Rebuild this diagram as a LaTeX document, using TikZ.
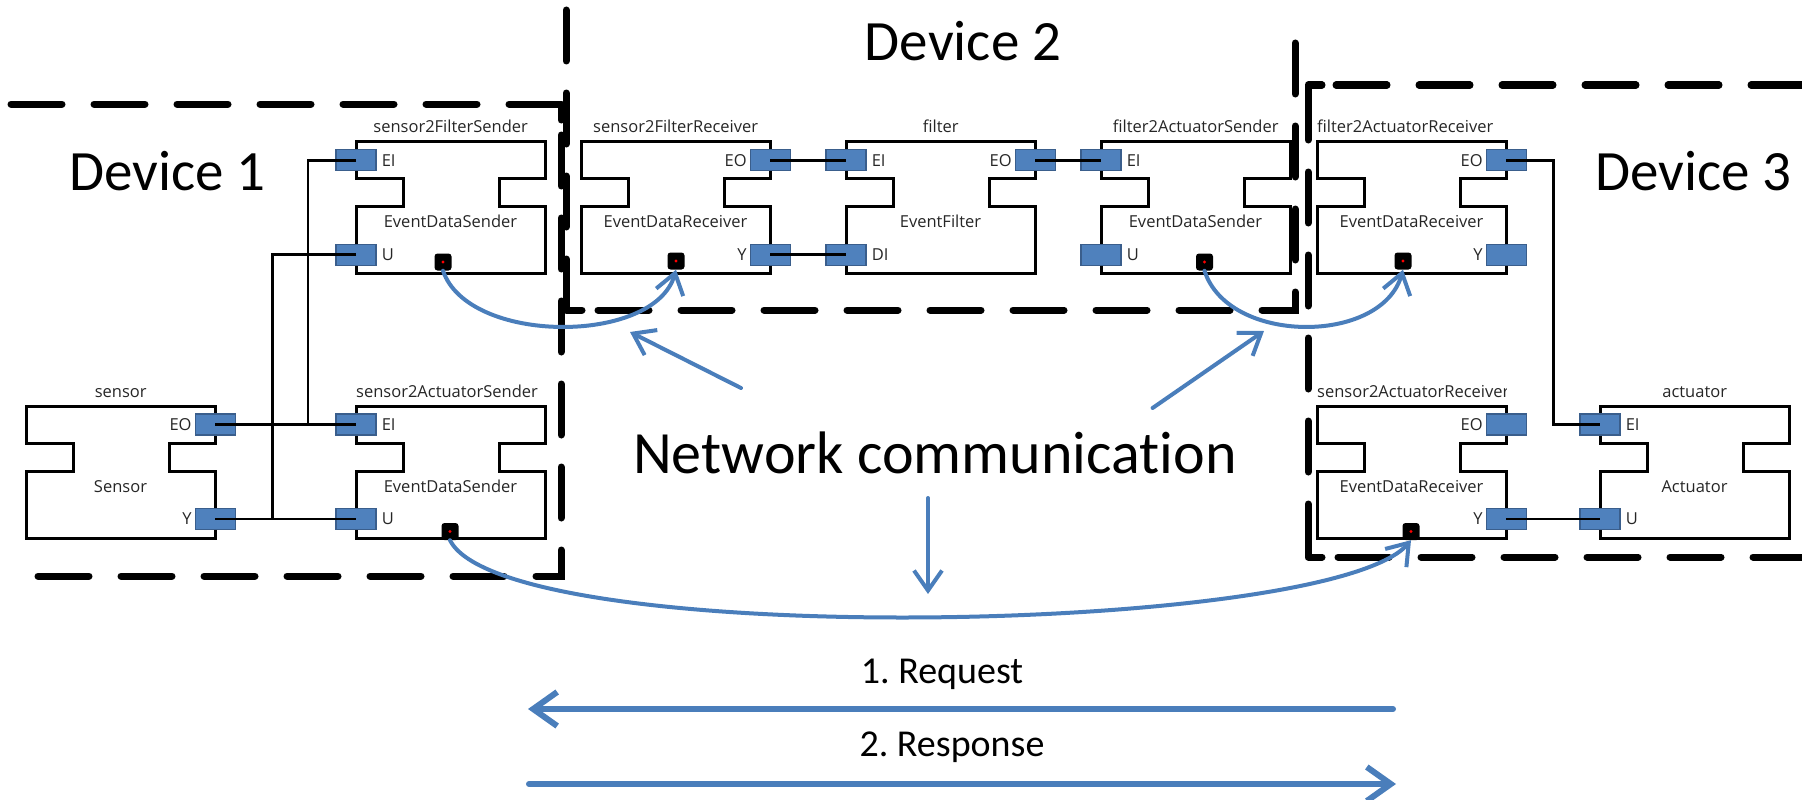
\documentclass[tikz,border=0pt]{standalone}
\usepackage{fontspec}
\setmainfont{Carlito}[Ligatures={NoCommon}]
\newfontfamily\uifont{Open Sans}
\usetikzlibrary{arrows.meta,calc}
\frenchspacing
\definecolor{portblue}{RGB}{79,129,189}
\definecolor{portedge}{RGB}{58,94,140}
\definecolor{netblue}{RGB}{74,126,187}
\tikzset{
  boxline/.style={draw=black,line width=3pt,line join=miter},
  blockarea/.style={rectangle,inner sep=0pt,minimum width=189pt,minimum height=132pt,anchor=north west},
  port/.style={rectangle,draw=portedge,fill=portblue,line width=1.2pt,minimum width=40pt,minimum height=21pt,inner sep=0pt},
  smalltext/.style={font=\uifont\fontsize{16.5}{18}\selectfont,inner sep=0pt,text=black!85},
  wire/.style={draw=black,line width=2.8pt},
  netsq/.style={rectangle,rounded corners=3pt,fill=black,minimum width=17pt,minimum height=17pt,inner sep=0pt,
     path picture={\fill[red] (path picture bounding box.center) circle (1.7pt);}},
  devdash/.style={draw=black,line width=7pt,line cap=round,dash pattern=on 51pt off 32pt},
  devcorner/.style={draw=black,line width=7pt,line cap=round,line join=round},
  biglabel/.style={font=\fontsize{57}{60}\selectfont,inner sep=0pt},
  netlabel/.style={font=\fontsize{60}{64}\selectfont,inner sep=0pt},
  midlabel/.style={font=\fontsize{38}{42}\selectfont,inner sep=0pt},
  netcurve/.style={draw=netblue,line width=4pt,line cap=round,-{Straight Barb[length=20pt,width=28pt]}},
  netarrow/.style={draw=netblue,line width=4pt,line cap=round,-{Straight Barb[length=20pt,width=28pt]}},
  bigarrow/.style={draw=netblue,line width=6pt,line cap=round,-{Straight Barb[length=24pt,width=34pt]}},
}
\newcommand\compblock[4]{%
  \begin{scope}[shift={(#2,#3)}]
    \node[blockarea] (#1) at (0,0) {};
    \draw[boxline] (0,0) -- (189,0) -- (189,37) -- (143,37) -- (143,65) -- (189,65) -- (189,132) -- (0,132) -- (0,65) -- (47,65) -- (47,37) -- (0,37) -- cycle;
    \node[smalltext,anchor=base] (#1type) at (94.5,86) {#4};
  \end{scope}}
\newcommand\ctitle[3]{\node[smalltext,anchor=base] (#1) at ($(#2.north)+(0,-9)$) {#3};}
\newcommand\ltitle[3]{\begin{scope}\clip ($(#2.north west)+(0,-30)$) rectangle (#2.north east);
  \node[smalltext,anchor=base west] (#1) at ($(#2.north west)+(0,-9)$) {#3};\end{scope}}
\newcommand\inport[4]{\node[port] (#1) at ($(#2.north west)+(0,#3)$) {};
  \node[smalltext,anchor=west] (#1lab) at ($(#1.east)+(5,0)$) {#4};}
\newcommand\outport[4]{\node[port] (#1) at ($(#2.north east)+(0,#3)$) {};
  \node[smalltext,anchor=east] (#1lab) at ($(#1.west)+(-3,0)$) {#4};}
\begin{document}
\begin{tikzpicture}[x=1pt,y=-1pt]
\useasboundingbox (0,0) rectangle (1802,800);
% device borders
\draw[devdash] (11,104) -- (561,104) -- (561,576) -- (26,576);
\draw[devcorner] (545,104) -- (561,104) -- (561,120);
\draw[devcorner] (561,560) -- (561,576) -- (545,576);
\draw[devdash] (566,10) -- (566,310) -- (1295,310) -- (1295,23);
\draw[devcorner] (566,294) -- (566,310) -- (582,310);
\draw[devcorner] (1279,310) -- (1295,310) -- (1295,294);
\draw[devdash] (1802,85) -- (1308,85) -- (1308,557) -- (1802,557);
\draw[devcorner] (1322,85) -- (1308,85) -- (1308,99);
\draw[devcorner] (1308,543) -- (1308,557) -- (1322,557);
% device labels
\node[biglabel,anchor=base west] (dev1) at (69,190) {Device 1};
\node[biglabel,anchor=base] (dev2) at (963,60) {Device 2};
\node[biglabel,anchor=base west] (dev3) at (1595,190) {Device 3};
% blocks
\compblock{s2fs}{356}{141.7}{EventDataSender}
\compblock{s2fr}{581}{141.7}{EventDataReceiver}
\compblock{filter}{846}{141.7}{EventFilter}
\compblock{f2as}{1101}{141.7}{EventDataSender}
\compblock{f2ar}{1317}{141.7}{EventDataReceiver}
\compblock{sensor}{26}{406}{Sensor}
\compblock{s2as}{356}{406}{EventDataSender}
\compblock{s2ar}{1317}{406}{EventDataReceiver}
\compblock{act}{1600}{406}{Actuator}
% titles
\ctitle{s2fsT}{s2fs}{sensor2FilterSender}
\ctitle{s2frT}{s2fr}{sensor2FilterReceiver}
\ctitle{filterT}{filter}{filter}
\ctitle{f2asT}{f2as}{filter2ActuatorSender}
\ltitle{f2arT}{f2ar}{filter2ActuatorReceiver}
\ctitle{sensorT}{sensor}{sensor}
\ltitle{s2asT}{s2as}{sensor2ActuatorSender}
\ltitle{s2arT}{s2ar}{sensor2ActuatorReceiver}
\ctitle{actT}{act}{actuator}
% ports
\inport{s2fsEI}{s2fs}{18.5}{EI}
\inport{s2fsU}{s2fs}{113}{U}
\outport{s2frEO}{s2fr}{18.5}{EO}
\outport{s2frY}{s2fr}{113}{Y}
\inport{filterEI}{filter}{18.5}{EI}
\inport{filterDI}{filter}{113}{DI}
\outport{filterEO}{filter}{18.5}{EO}
\inport{f2asEI}{f2as}{18.5}{EI}
\inport{f2asU}{f2as}{113}{U}
\outport{f2arEO}{f2ar}{18.5}{EO}
\outport{f2arY}{f2ar}{113}{Y}
\outport{sensorEO}{sensor}{18.5}{EO}
\outport{sensorY}{sensor}{113}{Y}
\inport{s2asEI}{s2as}{18.5}{EI}
\inport{s2asU}{s2as}{113}{U}
\outport{s2arEO}{s2ar}{18.5}{EO}
\outport{s2arY}{s2ar}{113}{Y}
\inport{actEI}{act}{18.5}{EI}
\inport{actU}{act}{113}{U}
% wires
\coordinate (j1) at (308,424.5);
\coordinate (j2) at (272.5,519);
\coordinate (bend) at (1553.3,300);
\draw[wire] (sensorEO.center) -- (s2asEI.center);
\draw[wire] (sensorY.center) -- (s2asU.center);
\draw[wire] (s2fsEI.center) -| (j1);
\draw[wire] (s2fsU.center) -| (j2);
\draw[wire] (s2frEO.center) -- (filterEI.center);
\draw[wire] (s2frY.center) -- (filterDI.center);
\draw[wire] (filterEO.center) -- (f2asEI.center);
\draw[wire] (f2arEO.center) -| (bend) |- (actEI.center);
\draw[wire] (s2arY.center) -- (actU.center);
% network endpoints
\node[netsq] (s2fsN) at (443,262) {};
\node[netsq] (s2frN) at (676,261) {};
\node[netsq] (f2asN) at (1204.5,262) {};
\node[netsq] (f2arN) at (1403,261) {};
\node[netsq] (s2asN) at (450,531.5) {};
\node[netsq] (s2arN) at (1411,531.5) {};
\draw[netcurve] (s2fsN.south) .. controls (468,345) and (655,345) .. (s2frN.south);
\draw[netcurve] (f2asN.south) .. controls (1228,345) and (1382,345) .. (f2arN.south);
\draw[netcurve] (s2asN.south) .. controls (505,650) and (1330,635) .. (s2arN.south);
% network communication label and arrows
\node[netlabel,anchor=base west] (netc) at (633,473) {Network communication};
\coordinate (nl0) at (741,388); \coordinate (nl1) at (630,332);
\coordinate (nr0) at (1152.6,408); \coordinate (nr1) at (1264,331);
\coordinate (nd0) at (928,498); \coordinate (nd1) at (928,594);
\draw[netarrow] (nl0) -- (nl1);
\draw[netarrow] (nr0) -- (nr1);
\draw[netarrow] (nd0) -- (nd1);
% request / response
\node[midlabel,anchor=base] (req) at (942,683) {1. Request};
\node[midlabel,anchor=base] (res) at (952,756) {2. Response};
\coordinate (reqA) at (1393,709); \coordinate (reqB) at (528,709);
\coordinate (resA) at (529,784); \coordinate (resB) at (1396,784);
\draw[bigarrow] (reqA) -- (reqB);
\draw[bigarrow] (resA) -- (resB);
\end{tikzpicture}
\end{document}
